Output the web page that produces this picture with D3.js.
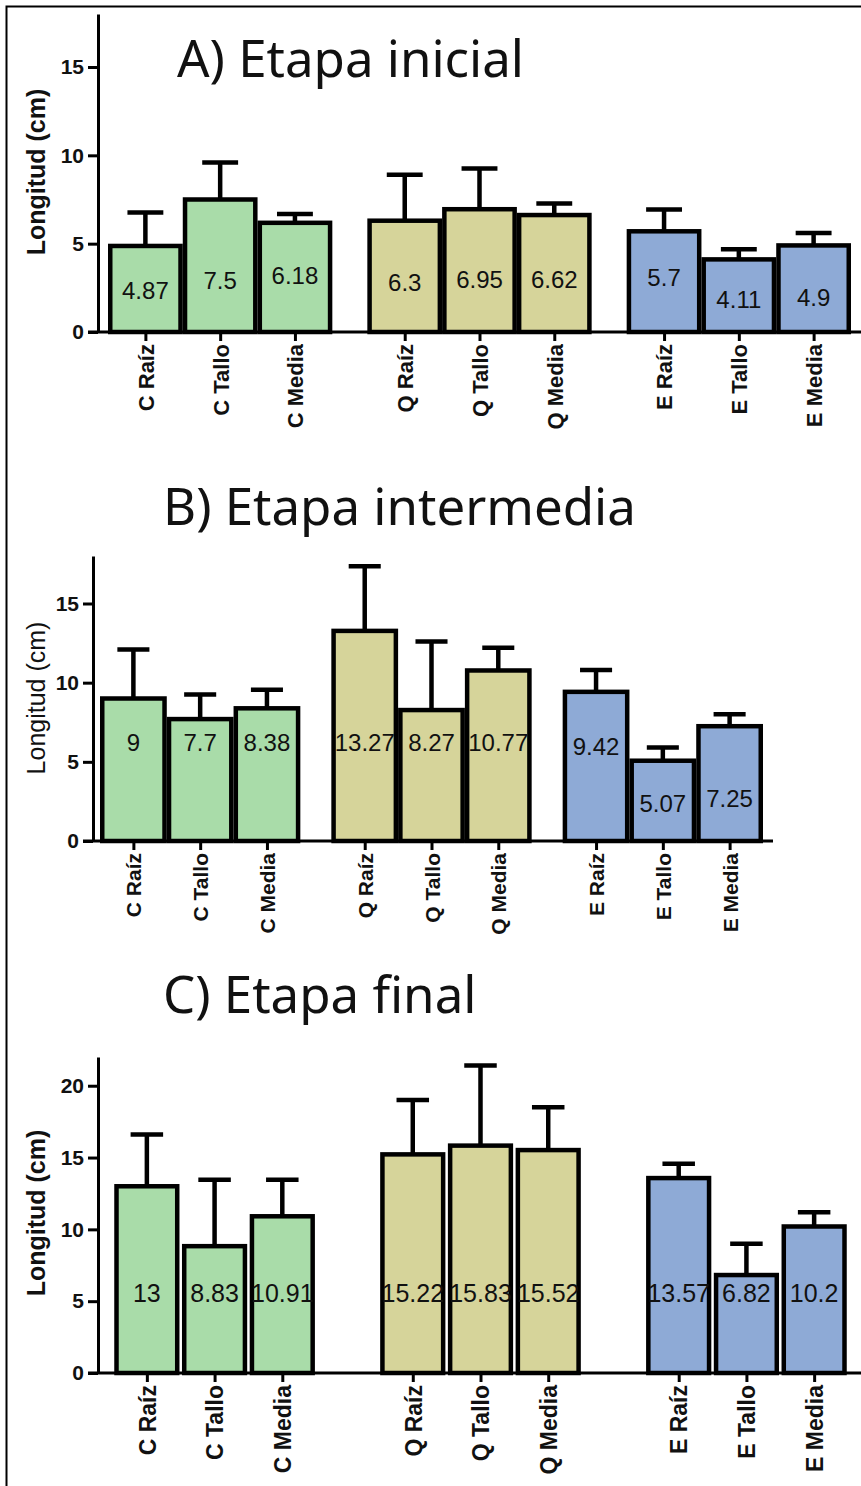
<!DOCTYPE html>
<html>
<head>
<meta charset="utf-8">
<script src="https://cdn.jsdelivr.net/npm/d3@7"></script>
<style>
  body { margin: 0; background: #fff; }
  svg { display: block; }
</style>
</head>
<body>
<div class="D3"></div>
<script>
// categories and groups
var categories = ["C Raíz", "C Tallo", "C Media", "Q Raíz", "Q Tallo", "Q Media", "E Raíz", "E Tallo", "E Media"];
var groups = ["C", "Q", "E"];
var parts = ["Raíz", "Tallo", "Media"];

// A) Etapa inicial
var meansA = [4.87, 7.5, 6.18, 6.3, 6.95, 6.62, 5.7, 4.11, 4.9];
var sdA = [1.9, 2.1, 0.5, 2.6, 2.3, 0.65, 1.23, 0.57, 0.7];
var labelAtA = [2.37, 2.9, 3.2, 2.8, 3.0, 3.0, 3.1, 1.86, 1.97]; // where the value text sits (cm)

// B) Etapa intermedia
var meansB = [9, 7.7, 8.38, 13.27, 8.27, 10.77, 9.42, 5.07, 7.25];
var sdB = [3.1, 1.55, 1.18, 4.09, 4.33, 1.43, 1.38, 0.83, 0.75];
var labelAtB = [6.2, 6.2, 6.2, 6.2, 6.2, 6.2, 6.0, 2.4, 2.7];

// C) Etapa final
var meansC = [13, 8.83, 10.91, 15.22, 15.83, 15.52, 13.57, 6.82, 10.2];
var sdC = [3.6, 4.62, 2.54, 3.78, 5.57, 2.98, 1.0, 2.18, 1.0];
var labelAtC = [5.6, 5.6, 5.6, 5.6, 5.6, 5.6, 5.6, 5.6, 5.6];

var ticksAB = [0, 5, 10, 15];
var ticksC = [0, 5, 10, 15, 20];

var groupColor = { C: "#a9dca9", Q: "#d6d49a", E: "#8eaad6" };

var svgWidth = 861;
var svgHeight = 1486;

var svg = d3.select(".D3")
  .append("svg")
  .attr("width", svgWidth)
  .attr("height", svgHeight);

// outer frame (only top and left edges are visible in the picture)
svg.append("rect")
  .attr("x", 6.5).attr("y", 6.5)
  .attr("width", svgWidth + 20).attr("height", svgHeight + 20)
  .attr("fill", "none").attr("stroke", "#000").attr("stroke-width", 2);

var panels = [
  { title: "A) Etapa inicial", titleX: 177, titleY: 77, means: meansA, sd: sdA, labelAt: labelAtA,
    yMax: 18, ticks: ticksAB, axisX: 98, y0: 332, yTop: 14, x0: 108, x1: 851, groupPad: 0.135,
    axisEnd: 861, yTitleBold: true, yTitleY: 172, valueSize: 24, tickSize: 21, catSize: 22, stroke: 4.5, gap: 0 },
  { title: "B) Etapa intermedia", titleX: 163, titleY: 525, means: meansB, sd: sdB, labelAt: labelAtB,
    yMax: 18, ticks: ticksAB, axisX: 93, y0: 841, yTop: 556, x0: 100, x1: 763, groupPad: 0.134,
    axisEnd: 773, yTitleBold: false, yTitleY: 698, valueSize: 24, tickSize: 21, catSize: 21, stroke: 4.5, gap: 0 },
  { title: "C) Etapa final", titleX: 163, titleY: 1013, means: meansC, sd: sdC, labelAt: labelAtC,
    yMax: 22, ticks: ticksC, axisX: 98, y0: 1373, yTop: 1057, x0: 113, x1: 848, groupPad: 0.236,
    axisEnd: 861, yTitleBold: true, yTitleY: 1213, valueSize: 25, tickSize: 21, catSize: 23, stroke: 4.5, gap: 2.5 }
];

panels.forEach(drawPanel);

function drawPanel(p) {
  var g = svg.append("g");

  var yScale = d3.scaleLinear().domain([0, p.yMax]).range([p.y0, p.yTop]);
  var groupScale = d3.scaleBand().domain(groups).range([p.x0, p.x1]).paddingInner(p.groupPad).paddingOuter(0);
  var partScale = d3.scaleBand().domain(parts).range([0, groupScale.bandwidth()]);

  var data = categories.map(function(c, i) {
    return { name: c, group: groups[Math.floor(i / 3)], part: parts[i % 3],
             mean: p.means[i], sd: p.sd[i], labelAt: p.labelAt[i] };
  });

  // x scale for the tick positions (one point per category)
  var xScale = d3.scaleOrdinal()
    .domain(categories)
    .range(data.map(function(d) { return groupScale(d.group) + partScale(d.part) + partScale.bandwidth() / 2; }));

  var bw = partScale.bandwidth();
  var capW = bw * 0.48;

  // title
  g.append("text")
    .attr("x", p.titleX).attr("y", p.titleY)
    .attr("font-family", "'Noto Sans', 'Open Sans', sans-serif")
    .attr("font-size", 51)
    .attr("fill", "#111")
    .text(p.title);

  // error bars (behind the bars)
  var err = g.append("g").attr("stroke", "#000").attr("stroke-width", 4.5).attr("fill", "none");
  err.selectAll("line.v").data(data).enter().append("line")
    .attr("x1", function(d) { return xScale(d.name); })
    .attr("x2", function(d) { return xScale(d.name); })
    .attr("y1", function(d) { return yScale(d.mean); })
    .attr("y2", function(d) { return yScale(d.mean + d.sd); });
  err.selectAll("line.cap").data(data).enter().append("line")
    .attr("x1", function(d) { return xScale(d.name) - capW / 2; })
    .attr("x2", function(d) { return xScale(d.name) + capW / 2; })
    .attr("y1", function(d) { return yScale(d.mean + d.sd); })
    .attr("y2", function(d) { return yScale(d.mean + d.sd); });

  // bars
  g.selectAll("rect.bar").data(data).enter().append("rect")
    .attr("class", "bar")
    .attr("x", function(d) { return groupScale(d.group) + partScale(d.part) + p.gap / 2 + p.stroke / 2; })
    .attr("width", bw - p.gap - p.stroke)
    .attr("y", function(d) { return yScale(d.mean); })
    .attr("height", function(d) { return yScale(0) - yScale(d.mean); })
    .attr("fill", function(d) { return groupColor[d.group]; })
    .attr("stroke", "#000")
    .attr("stroke-width", p.stroke);

  // value labels
  g.selectAll("text.val").data(data).enter().append("text")
    .attr("x", function(d) { return xScale(d.name); })
    .attr("y", function(d) { return yScale(d.labelAt); })
    .attr("dy", "0.36em")
    .attr("text-anchor", "middle")
    .attr("font-family", "'Liberation Sans', Arial, sans-serif")
    .attr("font-size", p.valueSize)
    .attr("fill", "#111")
    .text(function(d) { return String(d.mean); });

  // y axis
  var yAxis = g.append("g")
    .attr("transform", "translate(" + p.axisX + ",0)")
    .call(d3.axisLeft(yScale).tickValues(p.ticks).tickSize(10).tickSizeOuter(0).tickPadding(4));
  yAxis.select(".domain").attr("stroke-width", 3);
  yAxis.selectAll(".tick line").attr("stroke-width", 3);
  yAxis.selectAll(".tick text")
    .attr("font-family", "'Liberation Sans', Arial, sans-serif")
    .attr("font-weight", "bold")
    .attr("font-size", p.tickSize)
    .attr("fill", "#111");

  // x axis
  var xAxis = g.append("g")
    .attr("transform", "translate(0," + p.y0 + ")")
    .call(d3.axisBottom(xScale).tickSize(9).tickSizeOuter(0));
  xAxis.select(".domain").remove();
  xAxis.selectAll(".tick line").attr("stroke-width", 3);
  xAxis.selectAll(".tick text")
    .attr("transform", "rotate(-90)")
    .attr("x", -12).attr("y", 0).attr("dy", "0.36em")
    .style("text-anchor", "end")
    .attr("font-family", "'Liberation Sans', Arial, sans-serif")
    .attr("font-weight", "bold")
    .attr("font-size", p.catSize)
    .attr("fill", "#111");
  g.append("line")
    .attr("x1", p.axisX - 10).attr("x2", p.axisEnd)
    .attr("y1", p.y0).attr("y2", p.y0)
    .attr("stroke", "#000").attr("stroke-width", 3);

  // y axis title
  g.append("text")
    .attr("transform", "translate(36," + p.yTitleY + ") rotate(-90)")
    .attr("text-anchor", "middle")
    .attr("dy", "0.36em")
    .attr("font-family", "'Liberation Sans', Arial, sans-serif")
    .attr("font-weight", p.yTitleBold ? "bold" : "normal")
    .attr("font-size", p.yTitleBold ? 25 : 25)
    .attr("fill", "#111")
    .text("Longitud (cm)");
}
</script>
</body>
</html>
